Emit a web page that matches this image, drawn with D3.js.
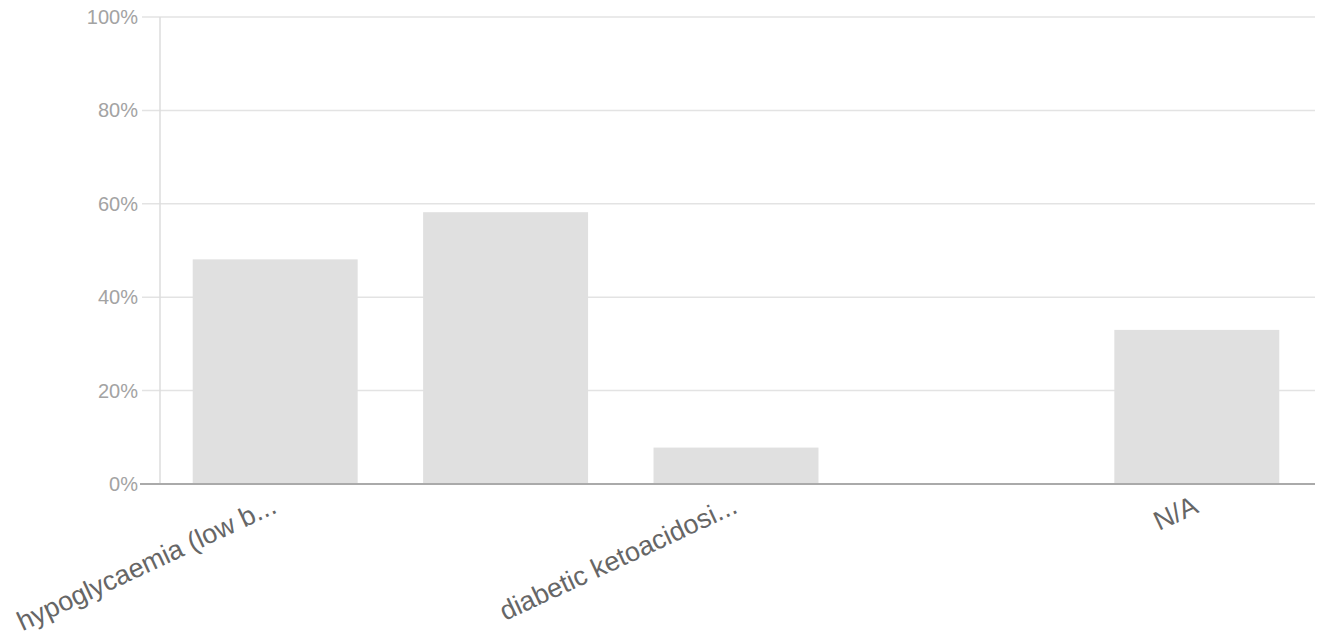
<!DOCTYPE html>
<html>
<head>
<meta charset="utf-8">
<script src="https://cdn.jsdelivr.net/npm/d3@7"></script>
<style>
  body { margin: 0; background: #fff; }
  svg { font-family: Arial, "Liberation Sans", sans-serif; }
</style>
</head>
<body>
<svg id="chart" width="1321" height="642"></svg>
<script>
// Bar chart of answers (share of respondents)

var categories = ["hypoglycaemia (low b...", "hyperglycaemia", "diabetic ketoacidosi...", "other", "N/A"];
var labels = ["hypoglycaemia (low b...", "", "diabetic ketoacidosi...", "", "N/A"];
var values = [48.1, 58.2, 7.8, 0, 33];
var yTicks = [0, 20, 40, 60, 80, 100];

var svg = d3.select("#chart");
var plotLeft = 160, plotRight = 1312, plotTop = 17, plotBottom = 484;

var x = d3.scaleBand()
  .domain(categories)
  .range([plotLeft, plotRight])
  .paddingInner(0.284)
  .paddingOuter(0.142);

var y = d3.scaleLinear().domain([0, 100]).range([plotBottom, plotTop]);

// gridlines
svg.append("g")
  .selectAll("line")
  .data(yTicks)
  .enter()
  .append("line")
  .attr("x1", plotLeft - 18)
  .attr("x2", plotRight + 3)
  .attr("y1", function (d) { return y(d); })
  .attr("y2", function (d) { return y(d); })
  .attr("stroke", "#e3e3e3")
  .attr("stroke-width", 1.5);

// tick labels
svg.append("g")
  .selectAll("text")
  .data(yTicks)
  .enter()
  .append("text")
  .attr("x", plotLeft - 22)
  .attr("y", function (d) { return y(d); })
  .attr("dy", "0.35em")
  .attr("text-anchor", "end")
  .attr("font-size", "20px")
  .attr("fill", "#a3a3a3")
  .text(function (d) { return d + "%"; });

// bars
svg.append("g")
  .selectAll("rect")
  .data(values)
  .enter()
  .append("rect")
  .attr("x", function (d, i) { return x(categories[i]); })
  .attr("y", function (d) { return y(d); })
  .attr("width", x.bandwidth())
  .attr("height", function (d) { return plotBottom - y(d); })
  .attr("fill", "#e0e0e0");

// left axis line
svg.append("line")
  .attr("x1", plotLeft).attr("x2", plotLeft)
  .attr("y1", plotTop).attr("y2", plotBottom)
  .attr("stroke", "#dcdcdc")
  .attr("stroke-width", 1.5);

// baseline
svg.append("line")
  .attr("x1", plotLeft - 20).attr("x2", plotRight + 3)
  .attr("y1", y(0)).attr("y2", y(0))
  .attr("stroke", "#aaaaaa")
  .attr("stroke-width", 2);

// category labels
svg.append("g")
  .selectAll("text")
  .data(labels)
  .enter()
  .append("text")
  .attr("transform", function (d, i) {
    return "translate(" + (x(categories[i]) + x.bandwidth() / 2 + 3) + "," + (plotBottom + 28) + ") rotate(-25)";
  })
  .attr("text-anchor", "end")
  .attr("font-size", "27px")
  .attr("fill", "#666")
  .text(function (d) { return d; });
</script>
</body>
</html>
